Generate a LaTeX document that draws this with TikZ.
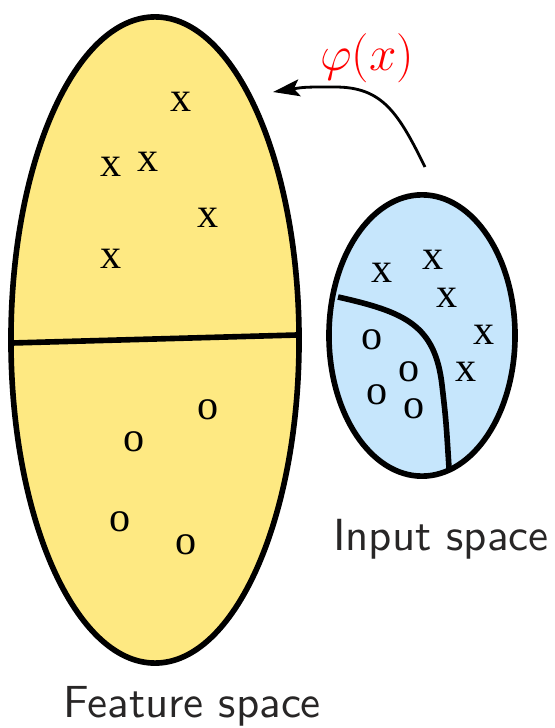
\RequirePackage{fix-cm}
\documentclass[tikz,border=0pt]{standalone}
\usepackage{fontspec}
\usepackage{xcolor}
\usepackage{tikz}
\usetikzlibrary{arrows.meta, shapes.geometric}
\newfontfamily\markfont{Liberation Serif}
\newfontfamily\labelfont{lmsans10-regular.otf}
\definecolor{featyellow}{RGB}{254, 233, 130}
\definecolor{inpblue}{RGB}{198, 230, 252}
\definecolor{labelgray}{RGB}{40, 38, 38}

\begin{document}
\begin{tikzpicture}[x=0.025cm, y=-0.025cm, >=Stealth,
    region/.style={ellipse, draw, line width=4pt, inner sep=0pt},
    crossmark/.style={font=\markfont\fontsize{30}{30}\selectfont, inner sep=0pt},
    spacelabel/.style={font=\labelfont\fontsize{32}{32}\selectfont, text=labelgray, anchor=base}]
  \useasboundingbox (0,0) rectangle (554,728);

  % Feature space
  \node[region, fill=featyellow, minimum width=7.2cm, minimum height=16.15cm] (feature) at (155,340) {};
  \coordinate (sepL) at (12,343);
  \coordinate (sepR) at (297,335);
  \draw[line width=4pt] (sepL) -- (sepR);
  \foreach \px/\py [count=\i] in {181/102, 111/167, 148/162, 208/218, 111/259}
    \node[crossmark] (fx\i) at (\px,\py) {x};
  \foreach \px/\py [count=\i] in {208/410, 134/442, 120/522, 186/545}
    \node[crossmark] (fo\i) at (\px,\py) {o};
  \node[spacelabel] (featlabel) at (192,717) {Feature space};

  % Input space
  \node[region, fill=inpblue, minimum width=4.65cm, minimum height=7.03cm] (input) at (422,335.5) {};
  \coordinate (bndA) at (338,297);
  \coordinate (bndB) at (442,385);
  \coordinate (bndC) at (449,468);
  \draw[line width=4pt] (bndA) .. controls (405,312) and (435,325) .. (bndB)
                               .. controls (446,420) .. (bndC);
  \foreach \px/\py [count=\i] in {382/273, 433/260, 447/298, 484/335, 466/372}
    \node[crossmark] (ix\i) at (\px,\py) {x};
  \foreach \px/\py [count=\i] in {372/340, 409/372, 377/395, 414/409}
    \node[crossmark] (io\i) at (\px,\py) {o};
  \node[spacelabel] (inplabel) at (441,550) {Input space};

  % Map
  \coordinate (mapfrom) at (425,167);
  \coordinate (mapto) at (273,92);
  \draw[->, line width=2pt, >={Stealth[length=19pt, width=12pt, inset=4pt]}]
    (mapfrom) .. controls (398,112) and (382,87) .. (335,87)
              .. controls (305,87) .. (mapto);
  \node[text=red, font=\fontsize{35}{35}\selectfont] (phi) at (367,58) {$\varphi(x)$};
\end{tikzpicture}
\end{document}
